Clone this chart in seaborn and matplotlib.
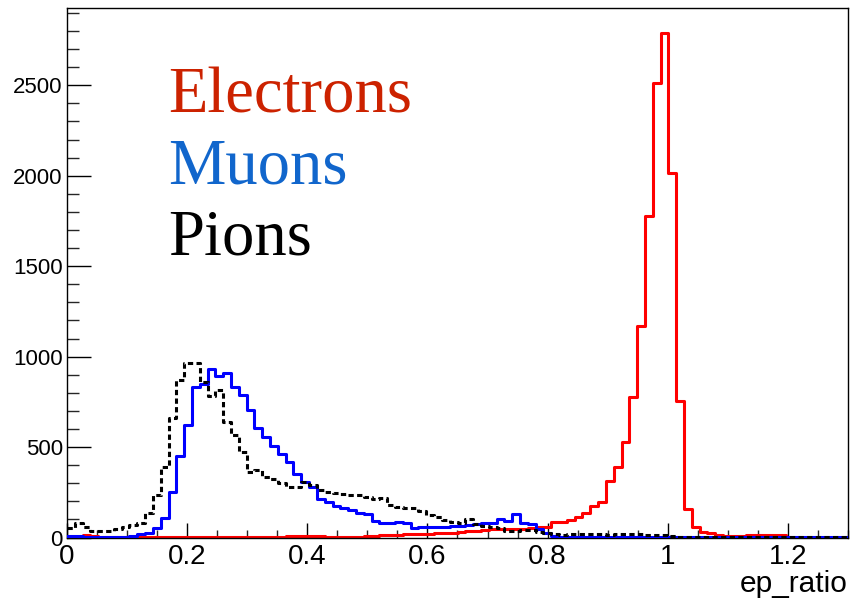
import numpy as np
import pandas as pd
import matplotlib
matplotlib.use("Agg")
import matplotlib.pyplot as plt
import seaborn as sns
from matplotlib.ticker import MultipleLocator

# 100 bins of width 0.013 covering ep_ratio in [0, 1.3]
n_bins = 100
x_lo, x_hi = 0.0, 1.3

electrons = [
    2, 2, 12, 10, 3, 3, 2, 2, 2, 2,
    4, 4, 5, 5, 5, 5, 5, 5, 5, 5,
    5, 5, 5, 5, 5, 5, 5, 5, 6, 6,
    6, 6, 6, 5, 5, 5, 5, 5, 6, 9,
    14, 14, 16, 19, 19, 19, 22, 27, 27, 27,
    30, 38, 38, 42, 45, 45, 45, 45, 49, 52,
    60, 60, 87, 87, 97, 115, 138, 175, 198, 310,
    390, 529, 777, 1169, 1776, 2515, 2788, 2015, 755, 157,
    60, 32, 23, 14, 8, 8, 8, 12, 12, 12,
    12, 12, 0, 0, 0, 0, 0, 0, 0, 0,
]

muons = [
    8, 6, 5, 5, 5, 5, 5, 5, 6, 20,
    23, 51, 106, 249, 450, 621, 832, 851, 930, 893,
    910, 832, 790, 704, 608, 556, 507, 459, 415, 350,
    308, 278, 214, 196, 176, 161, 150, 138, 128, 92,
    82, 78, 85, 78, 50, 56, 58, 58, 56, 64,
    65, 69, 73, 82, 82, 100, 90, 130, 78, 73,
    45, 23, 8, 3, 2, 2, 2, 1, 1, 1,
    1, 1, 1, 1, 1, 1, 1, 1, 1, 1,
    1, 1, 1, 1, 1, 1, 1, 1, 1, 1,
    1, 1, 1, 1, 1, 1, 1, 1, 1, 1,
]

pions = [
    50, 80, 60, 35, 35, 38, 45, 60, 69, 80,
    135, 235, 391, 658, 870, 967, 967, 860, 780, 814,
    639, 566, 474, 363, 375, 336, 321, 299, 277, 277,
    305, 290, 262, 253, 247, 240, 235, 235, 222, 211,
    216, 180, 167, 161, 161, 148, 125, 115, 97, 87,
    82, 100, 75, 66, 58, 50, 35, 38, 41, 40,
    30, 23, 19, 16, 18, 20, 18, 20, 18, 16,
    18, 20, 18, 18, 15, 14, 12, 8, 5, 2,
    2, 2, 2, 2, 2, 2, 2, 2, 2, 2,
    2, 2, 2, 2, 2, 2, 2, 2, 2, 2,
]

species = ["Electrons", "Muons", "Pions"]
label_colors = ["#cc2200", "#1166cc", "#000000"]

edges = np.linspace(x_lo, x_hi, n_bins + 1)
centers = 0.5 * (edges[:-1] + edges[1:])

df = pd.DataFrame({
    "ep_ratio": np.tile(centers, 3),
    "count": np.concatenate([electrons, muons, pions]).astype(float),
    "species": np.repeat(species, n_bins),
})

sns.set_theme(style="ticks")
plt.rcParams["font.family"] = ["Liberation Sans", "DejaVu Sans"]
plt.rcParams["lines.scale_dashes"] = False

fig = plt.figure(figsize=(8.52, 6.01), dpi=100)
ax = fig.add_axes([67 / 852, 1 - 537.5 / 601, (848 - 67) / 852, (537.5 - 8) / 601])

styles = {
    "Electrons": dict(color="#ff0000", linestyle="-", zorder=2),
    "Muons": dict(color="#0000ff", linestyle="-", zorder=3),
    "Pions": dict(color="#000000", linestyle=(0, (3.8, 2.4)), zorder=4),
}
for name in species:
    sub = df[df["species"] == name].reset_index(drop=True)
    sns.histplot(
        data=sub, x="ep_ratio", weights="count", bins=edges.tolist(),
        element="step", fill=False, linewidth=2.2, ax=ax, **styles[name],
    )

ymax = 1.05 * max(max(electrons), max(muons), max(pions))
ax.set_xlim(x_lo, x_hi)
ax.set_ylim(0, ymax)
ax.set_xlabel("")
ax.set_ylabel("")

for side in ["top", "right", "left", "bottom"]:
    ax.spines[side].set_visible(True)
    ax.spines[side].set_linewidth(1.0)
    ax.spines[side].set_color("black")

ax.xaxis.set_major_locator(MultipleLocator(0.2))
ax.xaxis.set_minor_locator(MultipleLocator(0.05))
ax.yaxis.set_major_locator(MultipleLocator(500))
ax.yaxis.set_minor_locator(MultipleLocator(100))
ax.xaxis.set_major_formatter(matplotlib.ticker.FuncFormatter(lambda v, p: f"{v:g}"))

ax.tick_params(axis="x", which="major", direction="in", length=11, width=1,
               labelsize=20, pad=5, colors="black")
ax.tick_params(axis="x", which="minor", direction="in", length=5.5, width=1)
ax.tick_params(axis="y", which="major", direction="in", length=17, width=1,
               labelsize=16, pad=3, colors="black")
ax.tick_params(axis="y", which="minor", direction="in", length=8.5, width=1)
ax.tick_params(top=False, right=False, which="both")

fig.text(848 / 852, 1 - 584 / 601, "ep_ratio", ha="right", va="center",
         fontsize=21.5, color="black")

text_y = [112, 184, 254]
for name, col, yb in zip(species, label_colors, text_y):
    fig.text(168 / 852, 1 - yb / 601, name, ha="left", va="baseline",
             fontsize=46.5, color=col, family=["Liberation Serif", "DejaVu Serif"])

fig.savefig("out.png", dpi=100, facecolor="white")
